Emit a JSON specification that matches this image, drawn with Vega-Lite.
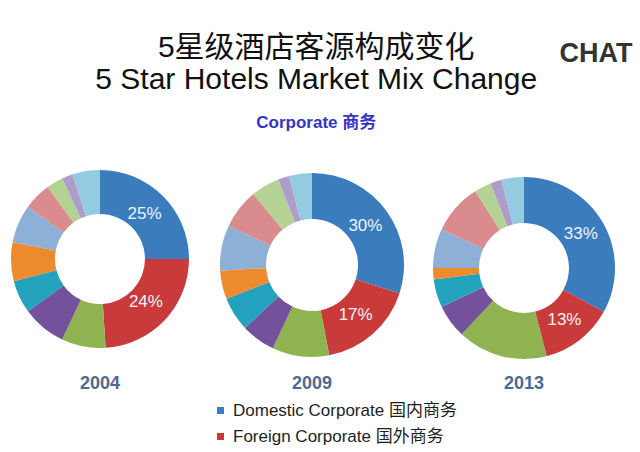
{
  "$schema": "https://vega.github.io/schema/vega-lite/v6.json",
  "background": "white",
  "padding": {"left": 0, "right": 8, "top": 33, "bottom": 8},
  "title": {
    "text": ["5星级酒店客源构成变化", "5 Star Hotels Market Mix Change"],
    "subtitle": "Corporate 商务",
    "font": "Liberation Sans, Noto Sans CJK SC",
    "fontSize": 30,
    "lineHeight": 32,
    "fontWeight": "normal",
    "color": "#111111",
    "subtitleFont": "Liberation Sans, Noto Sans CJK SC",
    "subtitleFontSize": 17,
    "subtitleFontWeight": "bold",
    "subtitleColor": "#3434c4",
    "subtitlePadding": 20,
    "anchor": "middle",
    "offset": -91
  },
  "data": {
    "values": [
      {"year": "2004", "seg": 1, "segment": "Domestic Corporate 国内商务", "share": 25, "label": "25%"},
      {"year": "2004", "seg": 2, "segment": "Foreign Corporate 国外商务", "share": 24, "label": "24%"},
      {"year": "2004", "seg": 3, "segment": "Segment 3", "share": 8, "label": ""},
      {"year": "2004", "seg": 4, "segment": "Segment 4", "share": 8, "label": ""},
      {"year": "2004", "seg": 5, "segment": "Segment 5", "share": 6, "label": ""},
      {"year": "2004", "seg": 6, "segment": "Segment 6", "share": 7, "label": ""},
      {"year": "2004", "seg": 7, "segment": "Segment 7", "share": 7, "label": ""},
      {"year": "2004", "seg": 8, "segment": "Segment 8", "share": 5, "label": ""},
      {"year": "2004", "seg": 9, "segment": "Segment 9", "share": 3, "label": ""},
      {"year": "2004", "seg": 10, "segment": "Segment 10", "share": 2, "label": ""},
      {"year": "2004", "seg": 11, "segment": "Segment 11", "share": 5, "label": ""},
      {"year": "2009", "seg": 1, "segment": "Domestic Corporate 国内商务", "share": 30, "label": "30%"},
      {"year": "2009", "seg": 2, "segment": "Foreign Corporate 国外商务", "share": 17, "label": "17%"},
      {"year": "2009", "seg": 3, "segment": "Segment 3", "share": 10, "label": ""},
      {"year": "2009", "seg": 4, "segment": "Segment 4", "share": 6, "label": ""},
      {"year": "2009", "seg": 5, "segment": "Segment 5", "share": 6, "label": ""},
      {"year": "2009", "seg": 6, "segment": "Segment 6", "share": 5, "label": ""},
      {"year": "2009", "seg": 7, "segment": "Segment 7", "share": 8, "label": ""},
      {"year": "2009", "seg": 8, "segment": "Segment 8", "share": 7, "label": ""},
      {"year": "2009", "seg": 9, "segment": "Segment 9", "share": 5, "label": ""},
      {"year": "2009", "seg": 10, "segment": "Segment 10", "share": 2, "label": ""},
      {"year": "2009", "seg": 11, "segment": "Segment 11", "share": 4, "label": ""},
      {"year": "2013", "seg": 1, "segment": "Domestic Corporate 国内商务", "share": 33, "label": "33%"},
      {"year": "2013", "seg": 2, "segment": "Foreign Corporate 国外商务", "share": 13, "label": "13%"},
      {"year": "2013", "seg": 3, "segment": "Segment 3", "share": 16, "label": ""},
      {"year": "2013", "seg": 4, "segment": "Segment 4", "share": 6, "label": ""},
      {"year": "2013", "seg": 5, "segment": "Segment 5", "share": 5, "label": ""},
      {"year": "2013", "seg": 6, "segment": "Segment 6", "share": 2, "label": ""},
      {"year": "2013", "seg": 7, "segment": "Segment 7", "share": 7, "label": ""},
      {"year": "2013", "seg": 8, "segment": "Segment 8", "share": 9, "label": ""},
      {"year": "2013", "seg": 9, "segment": "Segment 9", "share": 3, "label": ""},
      {"year": "2013", "seg": 10, "segment": "Segment 10", "share": 2, "label": ""},
      {"year": "2013", "seg": 11, "segment": "Segment 11", "share": 4, "label": ""}
    ]
  },
  "spacing": 12,
  "resolve": {"scale": {"color": "shared"}, "legend": {"color": "shared"}},
  "hconcat": [
    {
      "width": 200,
      "height": 190,
      "title": {"text": "2004", "orient": "bottom", "offset": 21},
      "transform": [{"filter": "datum.year == '2004'"}],
      "layer": [
        {
          "mark": {"type": "arc", "innerRadius": 45, "outerRadius": 89},
          "encoding": {
            "theta": {"field": "share", "type": "quantitative", "stack": true},
            "order": {"field": "seg", "type": "quantitative"},
            "color": {
              "field": "segment",
              "type": "nominal",
              "scale": {
                "domain": ["Domestic Corporate 国内商务", "Foreign Corporate 国外商务", "Segment 3", "Segment 4", "Segment 5", "Segment 6", "Segment 7", "Segment 8", "Segment 9", "Segment 10", "Segment 11"],
                "range": ["#3b7cbd", "#c93a3b", "#8fb351", "#74519b", "#22a2bd", "#ee8a2e", "#8eb0d6", "#da8b8e", "#b4d293", "#ae9dca", "#93cbe0"]
              },
              "legend": {
                "values": ["Domestic Corporate 国内商务", "Foreign Corporate 国外商务"],
                "orient": "none",
                "legendX": 212,
                "legendY": 238,
                "title": null
              }
            }
          }
        },
        {
          "mark": {"type": "text", "radius": 63, "fontSize": 17, "fill": "#eef3f8", "font": "Liberation Sans"},
          "encoding": {
            "theta": {"field": "share", "type": "quantitative", "stack": true},
            "order": {"field": "seg", "type": "quantitative"},
            "detail": {"field": "seg", "type": "nominal"},
            "text": {"field": "label"}
          }
        }
      ]
    },
    {
      "width": 200,
      "height": 202,
      "title": {"text": "2009", "orient": "bottom", "offset": 9},
      "transform": [{"filter": "datum.year == '2009'"}],
      "layer": [
        {
          "mark": {"type": "arc", "innerRadius": 46, "outerRadius": 92},
          "encoding": {
            "theta": {"field": "share", "type": "quantitative", "stack": true},
            "order": {"field": "seg", "type": "quantitative"},
            "color": {
              "field": "segment",
              "type": "nominal",
              "legend": {
                "values": ["Domestic Corporate 国内商务", "Foreign Corporate 国外商务"],
                "orient": "none",
                "legendX": 212,
                "legendY": 238,
                "title": null
              }
            }
          }
        },
        {
          "mark": {"type": "text", "radius": 66, "fontSize": 17, "fill": "#eef3f8", "font": "Liberation Sans"},
          "encoding": {
            "theta": {"field": "share", "type": "quantitative", "stack": true},
            "order": {"field": "seg", "type": "quantitative"},
            "detail": {"field": "seg", "type": "nominal"},
            "text": {"field": "label"}
          }
        }
      ]
    },
    {
      "width": 200,
      "height": 208,
      "title": {"text": "2013", "orient": "bottom", "offset": 3},
      "transform": [{"filter": "datum.year == '2013'"}],
      "layer": [
        {
          "mark": {"type": "arc", "innerRadius": 45, "outerRadius": 91},
          "encoding": {
            "theta": {"field": "share", "type": "quantitative", "stack": true},
            "order": {"field": "seg", "type": "quantitative"},
            "color": {
              "field": "segment",
              "type": "nominal",
              "legend": {
                "values": ["Domestic Corporate 国内商务", "Foreign Corporate 国外商务"],
                "orient": "none",
                "legendX": 212,
                "legendY": 238,
                "title": null
              }
            }
          }
        },
        {
          "mark": {"type": "text", "radius": 66, "fontSize": 17, "fill": "#eef3f8", "font": "Liberation Sans"},
          "encoding": {
            "theta": {"field": "share", "type": "quantitative", "stack": true},
            "order": {"field": "seg", "type": "quantitative"},
            "detail": {"field": "seg", "type": "nominal"},
            "text": {"field": "label"}
          }
        },
        {
          "data": {"values": [{"logo": "CHAT"}]},
          "mark": {"type": "text", "x": 172, "y": -110, "fontSize": 27, "fontWeight": "bold", "fill": "#333333", "font": "Liberation Sans", "align": "center"},
          "encoding": {"text": {"field": "logo"}}
        }
      ]
    }
  ],
  "config": {
    "view": {"stroke": null},
    "title": {"font": "Liberation Sans", "fontSize": 18, "fontWeight": "bold", "color": "#4a6b8f"},
    "legend": {
      "labelFont": "Liberation Sans, Noto Sans CJK SC",
      "labelFontSize": 17,
      "labelColor": "#1e1e1e",
      "symbolType": "square",
      "symbolSize": 49,
      "symbolStrokeWidth": 0,
      "rowPadding": 8,
      "labelLimit": 400
    }
  }
}
